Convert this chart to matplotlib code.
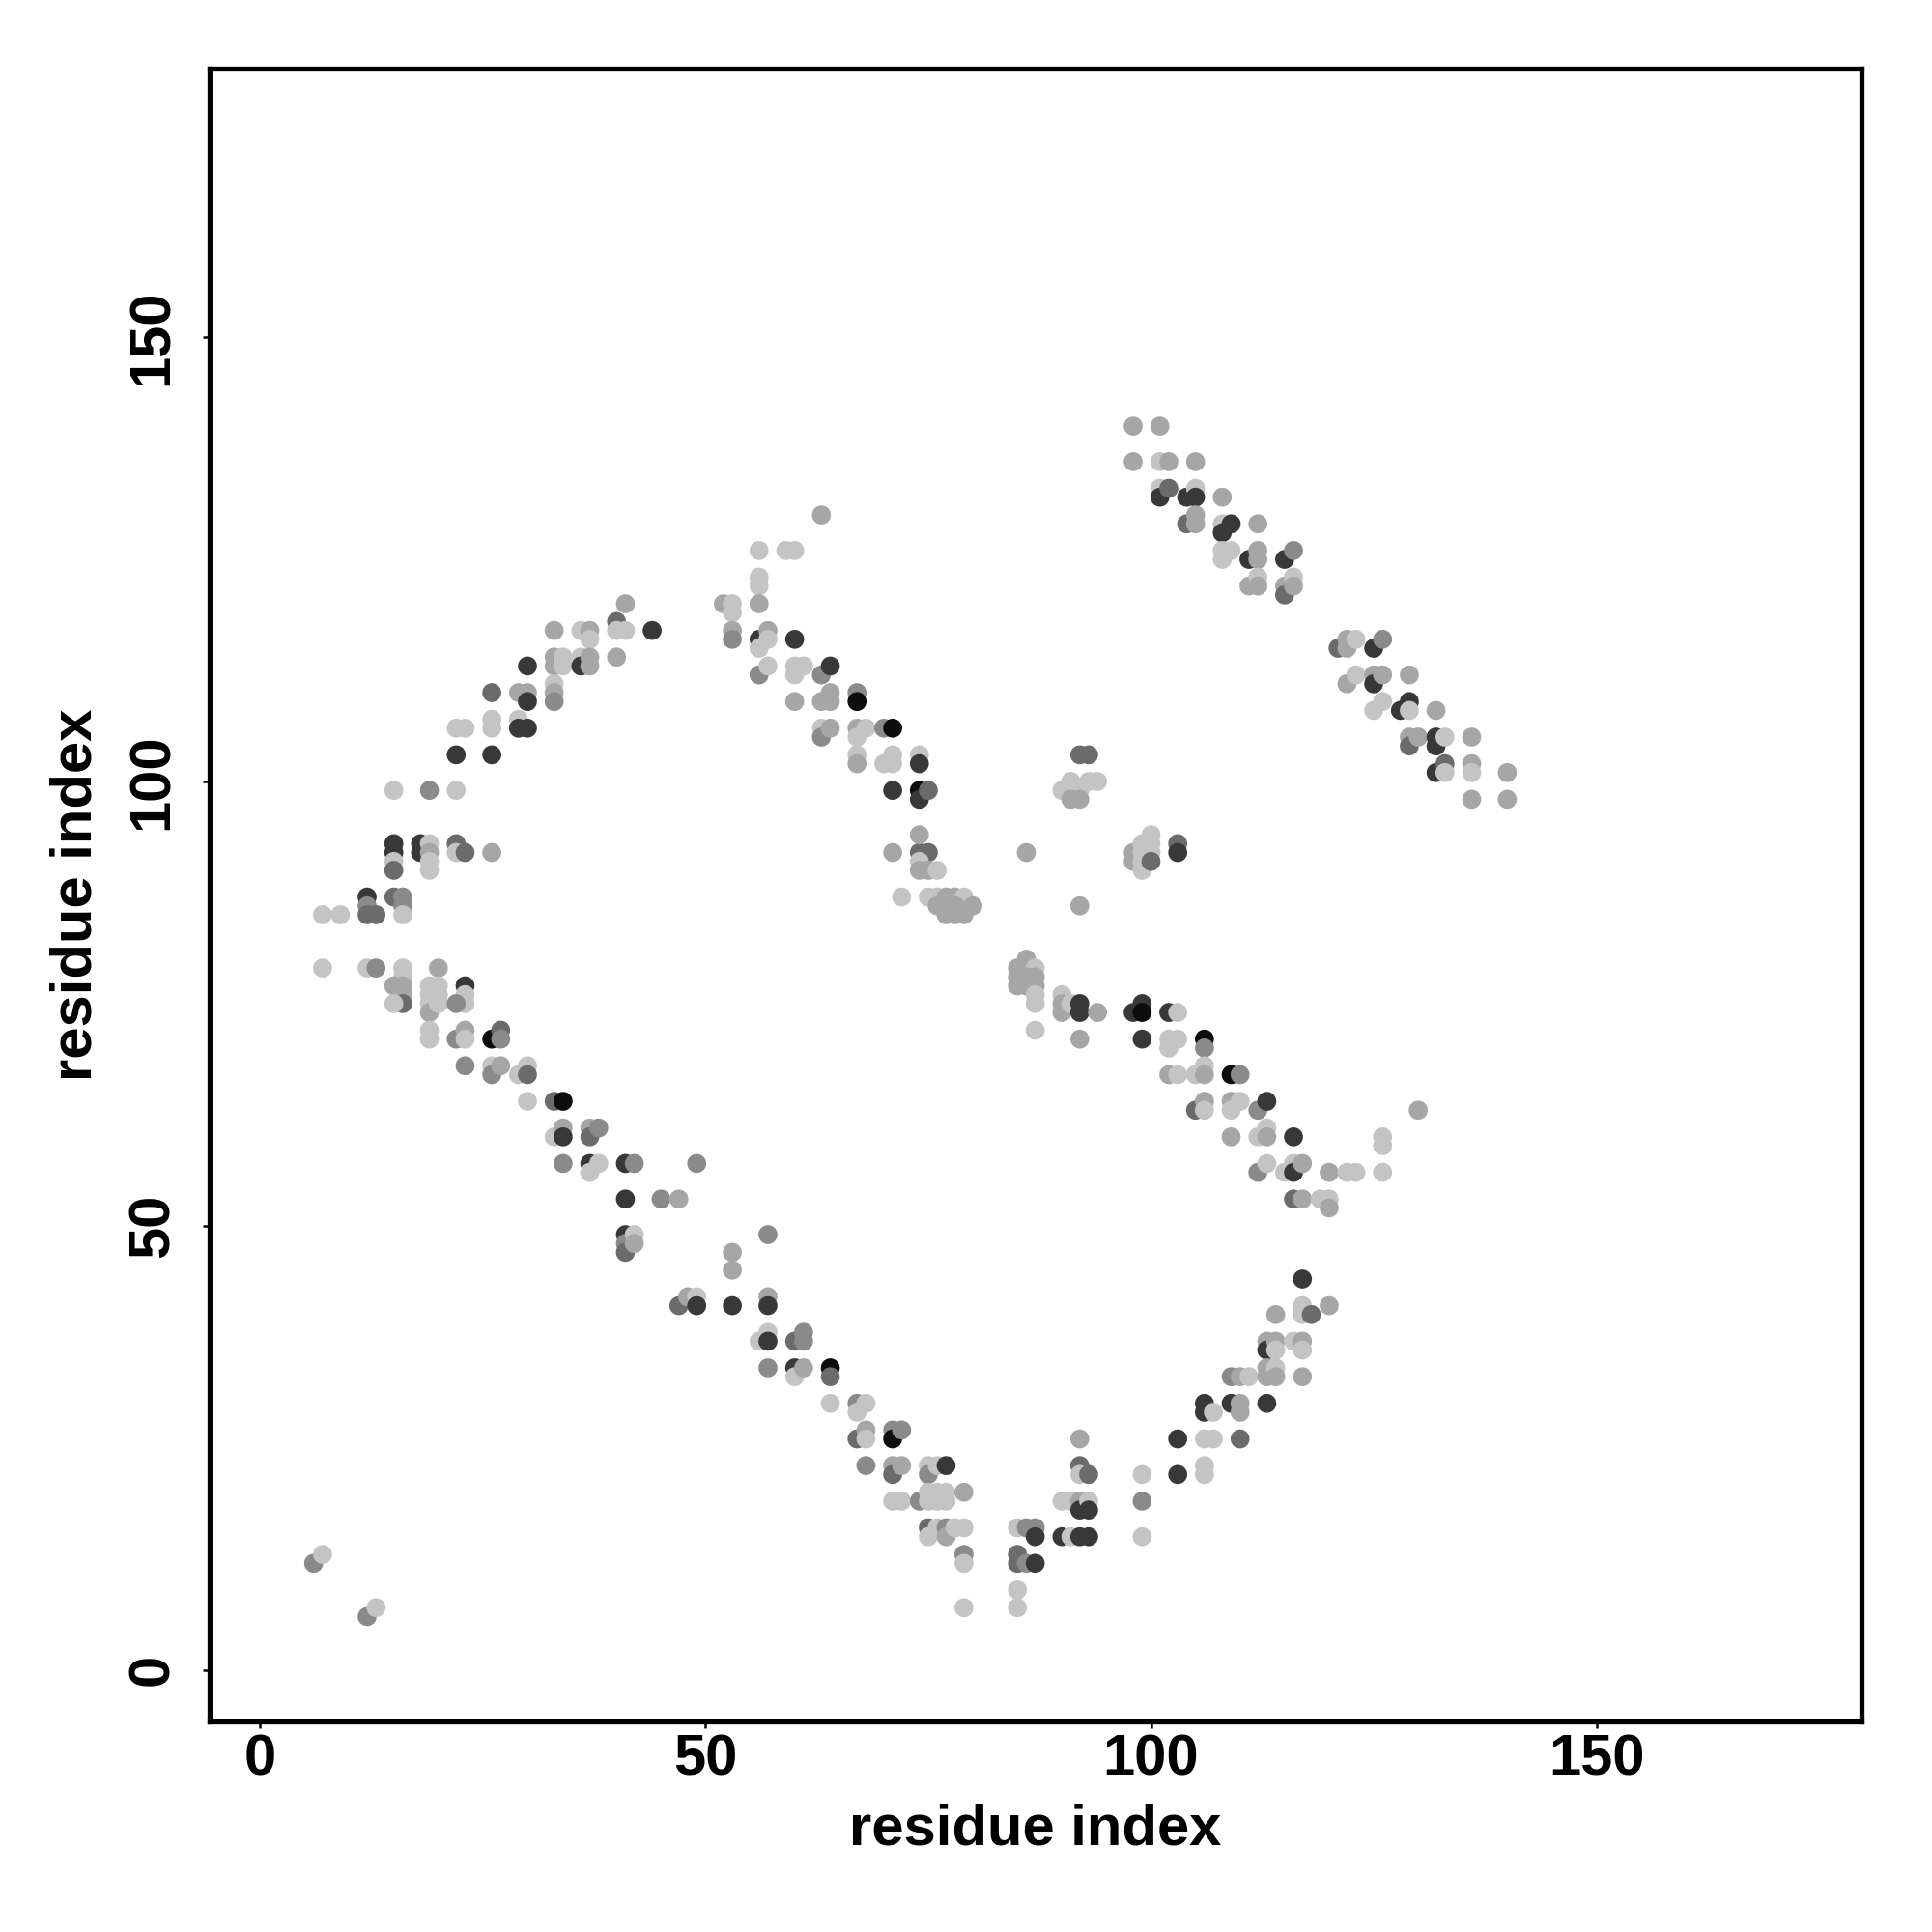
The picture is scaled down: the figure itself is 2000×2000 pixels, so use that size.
import matplotlib
matplotlib.use("Agg")
import matplotlib.pyplot as plt

plt.rcParams['font.family'] = ['Liberation Sans', 'DejaVu Sans']

# grey level for each shade code (0 = black, 1 = white)
shade_levels = {'B': 0.05, 'D': 0.22, 'M': 0.42, 'G': 0.54, 'L': 0.65, 'W': 0.77}

# contacts: (residue i, residue j, shade)
upper_left = [
    (41, 120, 'L'), (33, 117, 'L'), (36, 117, 'W'), (37, 117, 'L'), (37, 116, 'W'),
    (40, 118, 'M'), (40, 117, 'W'), (41, 117, 'W'), (44, 117, 'D'), (30, 113, 'D'),
    (33, 114, 'L'), (33, 113, 'L'), (34, 114, 'W'), (34, 113, 'W'), (36, 114, 'W'),
    (36, 113, 'D'), (37, 114, 'L'), (37, 113, 'L'), (40, 114, 'L'), (26, 110, 'M'),
    (29, 110, 'L'), (30, 110, 'L'), (30, 109, 'D'), (33, 111, 'W'), (33, 110, 'L'),
    (33, 109, 'G'), (22, 106, 'W'), (23, 106, 'W'), (26, 107, 'W'), (26, 106, 'W'),
    (29, 107, 'W'), (29, 106, 'D'), (30, 106, 'D'), (22, 103, 'D'), (26, 103, 'D'),
    (15, 99, 'W'), (19, 99, 'G'), (22, 99, 'W'), (15, 93, 'D'), (15, 92, 'D'),
    (15, 91, 'W'), (15, 90, 'M'), (18, 93, 'D'), (18, 92, 'D'), (19, 93, 'W'),
    (19, 92, 'L'), (19, 91, 'W'), (19, 90, 'W'), (22, 93, 'M'), (22, 92, 'W'),
    (23, 92, 'M'), (26, 92, 'L'), (12, 87, 'D'), (12, 86, 'G'), (12, 85, 'M'),
    (13, 85, 'M'), (15, 87, 'M'), (16, 87, 'G'), (16, 86, 'G'), (16, 85, 'W'),
    (7, 85, 'W'), (9, 85, 'W'),
]

lower_left = [
    (7, 79, 'W'), (12, 79, 'W'), (13, 79, 'G'), (16, 79, 'W'), (16, 78, 'W'),
    (20, 79, 'L'), (23, 77, 'D'), (16, 77, 'L'), (16, 76, 'L'), (16, 75, 'M'),
    (15, 77, 'L'), (15, 75, 'W'), (19, 77, 'W'), (19, 76, 'W'), (19, 75, 'W'),
    (19, 74, 'L'), (20, 77, 'W'), (20, 76, 'W'), (20, 75, 'W'), (23, 76, 'W'),
    (23, 75, 'W'), (22, 75, 'G'), (19, 72, 'W'), (19, 71, 'W'), (22, 71, 'G'),
    (23, 72, 'L'), (23, 71, 'W'), (26, 71, 'B'), (27, 72, 'M'), (27, 71, 'G'),
    (23, 68, 'G'), (26, 68, 'W'), (26, 67, 'G'), (27, 68, 'L'), (29, 67, 'W'),
    (30, 68, 'W'), (30, 67, 'M'), (30, 64, 'W'), (33, 64, 'M'), (34, 64, 'B'),
    (33, 60, 'W'), (34, 61, 'L'), (34, 60, 'D'), (37, 61, 'L'), (37, 60, 'M'),
    (38, 61, 'G'), (34, 57, 'G'), (37, 57, 'D'), (37, 56, 'W'), (38, 57, 'W'),
    (41, 57, 'D'), (42, 57, 'G'), (49, 57, 'G'), (41, 53, 'D'), (45, 53, 'G'),
    (47, 53, 'L'), (41, 49, 'D'), (41, 48, 'G'), (41, 47, 'M'), (42, 49, 'W'),
    (42, 48, 'L'), (47, 41, 'M'), (48, 42, 'L'), (49, 42, 'W'), (49, 41, 'D'),
    (6, 12, 'G'), (7, 13, 'W'), (12, 6, 'G'), (13, 7, 'W'),
]

upper_mid = [
    (63, 130, 'L'), (56, 126, 'W'), (59, 126, 'W'), (60, 126, 'W'), (56, 123, 'W'),
    (56, 122, 'W'), (52, 120, 'L'), (53, 120, 'W'), (53, 119, 'W'), (56, 120, 'L'),
    (53, 117, 'L'), (53, 116, 'G'), (56, 116, 'D'), (56, 115, 'W'), (57, 117, 'L'),
    (57, 116, 'W'), (60, 116, 'D'), (56, 112, 'G'), (57, 113, 'W'), (60, 113, 'W'),
    (60, 112, 'W'), (61, 113, 'W'), (63, 112, 'G'), (64, 113, 'D'), (60, 109, 'L'),
    (63, 109, 'L'), (64, 110, 'L'), (64, 109, 'L'), (67, 110, 'G'), (67, 109, 'B'),
    (63, 106, 'W'), (63, 105, 'G'), (64, 106, 'L'), (67, 106, 'L'), (67, 105, 'W'),
    (68, 106, 'W'), (70, 106, 'G'), (71, 106, 'B'), (67, 103, 'W'), (67, 102, 'L'),
    (70, 102, 'W'), (71, 103, 'W'), (71, 102, 'W'), (74, 103, 'W'), (74, 102, 'D'),
    (71, 99, 'D'), (74, 99, 'B'), (74, 98, 'D'), (75, 99, 'M'), (86, 92, 'L'),
    (71, 92, 'L'), (74, 92, 'M'), (75, 92, 'M'), (74, 94, 'L'), (74, 91, 'W'),
    (74, 90, 'L'), (75, 90, 'L'), (76, 90, 'W'), (72, 87, 'W'), (75, 87, 'W'),
    (76, 87, 'W'), (77, 87, 'L'), (78, 87, 'L'), (79, 87, 'W'), (80, 86, 'L'),
    (76, 86, 'L'), (77, 86, 'L'), (78, 86, 'L'), (77, 85, 'L'), (78, 85, 'L'),
    (79, 85, 'L'), (92, 103, 'M'), (93, 103, 'M'), (91, 100, 'W'), (90, 99, 'W'),
    (92, 99, 'W'), (93, 100, 'W'), (94, 100, 'W'), (91, 98, 'L'), (92, 98, 'L'),
    (92, 86, 'L'),
]

centre = [
    (86, 80, 'L'), (85, 79, 'L'), (86, 79, 'L'), (87, 79, 'W'), (85, 78, 'L'),
    (86, 78, 'L'), (87, 78, 'L'), (85, 77, 'L'), (86, 77, 'L'), (87, 77, 'L'),
    (87, 76, 'W'), (87, 75, 'W'), (90, 76, 'W'), (90, 75, 'L'), (90, 74, 'L'),
    (91, 75, 'W'), (92, 75, 'D'), (92, 74, 'D'), (94, 74, 'L'), (87, 72, 'W'),
    (92, 71, 'L'),
]

lower_mid = [
    (57, 49, 'G'), (53, 47, 'L'), (53, 45, 'L'), (57, 42, 'L'), (57, 41, 'D'),
    (53, 41, 'D'), (56, 37, 'W'), (57, 38, 'W'), (57, 37, 'D'), (60, 37, 'M'),
    (61, 38, 'G'), (61, 37, 'G'), (57, 34, 'G'), (60, 34, 'D'), (60, 33, 'W'),
    (61, 34, 'L'), (64, 34, 'B'), (64, 33, 'M'), (64, 30, 'W'), (67, 30, 'G'),
    (67, 29, 'W'), (68, 30, 'W'), (67, 26, 'M'), (68, 27, 'L'), (68, 26, 'W'),
    (71, 27, 'G'), (71, 26, 'B'), (72, 27, 'G'), (68, 23, 'G'), (71, 23, 'L'),
    (71, 22, 'M'), (72, 23, 'L'), (75, 23, 'W'), (75, 22, 'G'), (76, 23, 'W'),
    (77, 23, 'D'), (71, 19, 'W'), (72, 19, 'W'), (74, 19, 'G'), (75, 20, 'W'),
    (75, 19, 'W'), (76, 20, 'W'), (76, 19, 'W'), (77, 20, 'W'), (77, 19, 'W'),
    (79, 20, 'L'), (75, 16, 'M'), (75, 15, 'W'), (76, 16, 'W'), (77, 16, 'G'),
    (77, 15, 'L'), (78, 16, 'W'), (79, 16, 'W'), (79, 13, 'G'), (79, 12, 'W'),
    (79, 7, 'W'), (85, 16, 'W'), (86, 16, 'G'), (87, 16, 'G'), (87, 15, 'D'),
    (85, 13, 'M'), (85, 12, 'M'), (86, 12, 'G'), (87, 12, 'D'), (85, 9, 'W'),
    (85, 7, 'W'), (92, 26, 'L'), (92, 23, 'M'), (92, 22, 'W'), (93, 22, 'M'),
    (90, 19, 'W'), (91, 19, 'W'), (92, 19, 'L'), (92, 18, 'D'), (93, 19, 'W'),
    (93, 18, 'D'), (90, 15, 'D'), (91, 15, 'W'), (92, 15, 'D'), (93, 15, 'D'),
]

lower_right = [
    (117, 44, 'D'), (114, 40, 'L'), (117, 41, 'W'), (117, 40, 'W'), (118, 40, 'M'),
    (120, 41, 'L'), (113, 37, 'L'), (113, 36, 'D'), (114, 37, 'L'), (114, 36, 'W'),
    (116, 37, 'W'), (117, 37, 'L'), (117, 36, 'W'), (109, 33, 'G'), (110, 33, 'L'),
    (111, 33, 'W'), (113, 34, 'L'), (113, 33, 'L'), (114, 34, 'W'), (114, 33, 'L'),
    (117, 33, 'L'), (106, 30, 'D'), (106, 29, 'D'), (107, 29, 'W'), (109, 30, 'D'),
    (110, 30, 'L'), (110, 29, 'L'), (113, 30, 'D'), (103, 26, 'D'), (106, 26, 'W'),
    (107, 26, 'W'), (110, 26, 'M'), (103, 22, 'D'), (106, 23, 'W'), (106, 22, 'W'),
    (99, 22, 'W'), (99, 19, 'G'), (99, 15, 'W'),
]

upper_right = [
    (98, 140, 'L'), (101, 140, 'L'), (98, 136, 'L'), (101, 136, 'W'), (102, 136, 'L'),
    (105, 136, 'L'), (101, 133, 'W'), (101, 132, 'D'), (102, 133, 'M'), (104, 132, 'D'),
    (105, 133, 'W'), (105, 132, 'D'), (108, 132, 'L'), (104, 129, 'M'), (105, 130, 'L'),
    (105, 129, 'L'), (108, 129, 'W'), (108, 128, 'D'), (109, 129, 'D'), (112, 129, 'L'),
    (108, 126, 'W'), (108, 125, 'W'), (109, 126, 'W'), (111, 125, 'D'), (112, 126, 'L'),
    (112, 125, 'L'), (115, 125, 'D'), (116, 126, 'G'), (111, 122, 'L'), (112, 123, 'W'),
    (112, 122, 'L'), (115, 122, 'L'), (115, 121, 'M'), (116, 123, 'W'), (116, 122, 'L'),
    (121, 115, 'M'), (122, 116, 'L'), (122, 115, 'L'), (123, 116, 'W'), (125, 115, 'D'),
    (126, 116, 'G'), (122, 111, 'L'), (123, 112, 'W'), (125, 112, 'L'), (125, 111, 'D'),
    (126, 112, 'L'), (129, 112, 'L'), (125, 108, 'W'), (126, 109, 'W'), (128, 108, 'D'),
    (129, 109, 'D'), (129, 108, 'W'), (132, 108, 'L'), (129, 105, 'L'), (129, 104, 'M'),
    (130, 105, 'L'), (132, 105, 'D'), (132, 104, 'D'), (133, 105, 'W'), (136, 105, 'L'),
    (132, 101, 'D'), (133, 102, 'M'), (133, 101, 'W'), (136, 102, 'L'), (136, 101, 'W'),
    (140, 101, 'L'), (136, 98, 'L'), (140, 98, 'L'),
]

right_mid = [
    (98, 92, 'L'), (98, 91, 'L'), (99, 93, 'W'), (99, 92, 'W'), (99, 91, 'W'),
    (99, 90, 'W'), (100, 94, 'W'), (100, 93, 'W'), (100, 92, 'W'), (100, 91, 'M'),
    (103, 93, 'M'), (103, 92, 'D'), (98, 74, 'D'), (99, 75, 'D'), (99, 74, 'B'),
    (102, 74, 'D'), (103, 74, 'W'), (99, 71, 'D'), (102, 71, 'W'), (102, 70, 'W'),
    (103, 71, 'W'), (106, 71, 'B'), (106, 70, 'G'), (102, 67, 'L'), (103, 67, 'W'),
    (105, 67, 'W'), (106, 68, 'W'), (106, 67, 'L'), (109, 67, 'B'), (110, 67, 'G'),
    (105, 63, 'M'), (106, 64, 'L'), (106, 63, 'W'), (109, 64, 'L'), (109, 63, 'W'),
    (110, 64, 'W'), (112, 63, 'G'), (113, 64, 'D'), (130, 63, 'L'), (109, 60, 'L'),
    (112, 60, 'W'), (113, 61, 'W'), (113, 60, 'L'), (116, 60, 'D'), (126, 60, 'W'),
    (126, 59, 'W'), (112, 56, 'G'), (113, 57, 'W'), (115, 56, 'W'), (116, 57, 'W'),
    (116, 56, 'D'), (117, 57, 'L'), (120, 56, 'L'), (122, 56, 'W'), (123, 56, 'W'),
    (126, 56, 'W'), (116, 53, 'M'), (117, 53, 'L'), (119, 53, 'W'), (120, 53, 'W'),
    (120, 52, 'L'),
]

groups = [upper_left, lower_left, upper_mid, centre, lower_mid,
          lower_right, upper_right, right_mid]

fig = plt.figure(figsize=(10, 10), dpi=200)
ax = fig.add_axes([0.1084, 0.109, 0.8553, 0.8553])

for g in groups:
    xs = [p[0] for p in g]
    ys = [p[1] for p in g]
    cs = [str(shade_levels[p[2]]) for p in g]
    ax.scatter(xs, ys, c=cs, s=50, linewidths=0, zorder=3)

ax.set_xlim(-5.7, 179.8)
ax.set_ylim(-5.8, 180.2)
ax.set_xticks([0, 50, 100, 150])
ax.set_yticks([0, 50, 100, 150])
ax.tick_params(axis='both', direction='out', length=2.5, width=0.9, labelsize=21.5)
ax.tick_params(axis='x', pad=2.0)
ax.tick_params(axis='y', pad=8.5)
for lab in ax.get_xticklabels():
    lab.set_fontweight('bold')
for lab in ax.get_yticklabels():
    lab.set_fontweight('bold')
    lab.set_rotation(90)
    lab.set_verticalalignment('center')
for sp in ax.spines.values():
    sp.set_linewidth(1.9)

ax.set_xlabel('residue index', fontsize=21.5, fontweight='bold', labelpad=6)
ax.set_ylabel('residue index', fontsize=21.5, fontweight='bold', labelpad=9)

fig.savefig('out.png', dpi=200, facecolor='white')
